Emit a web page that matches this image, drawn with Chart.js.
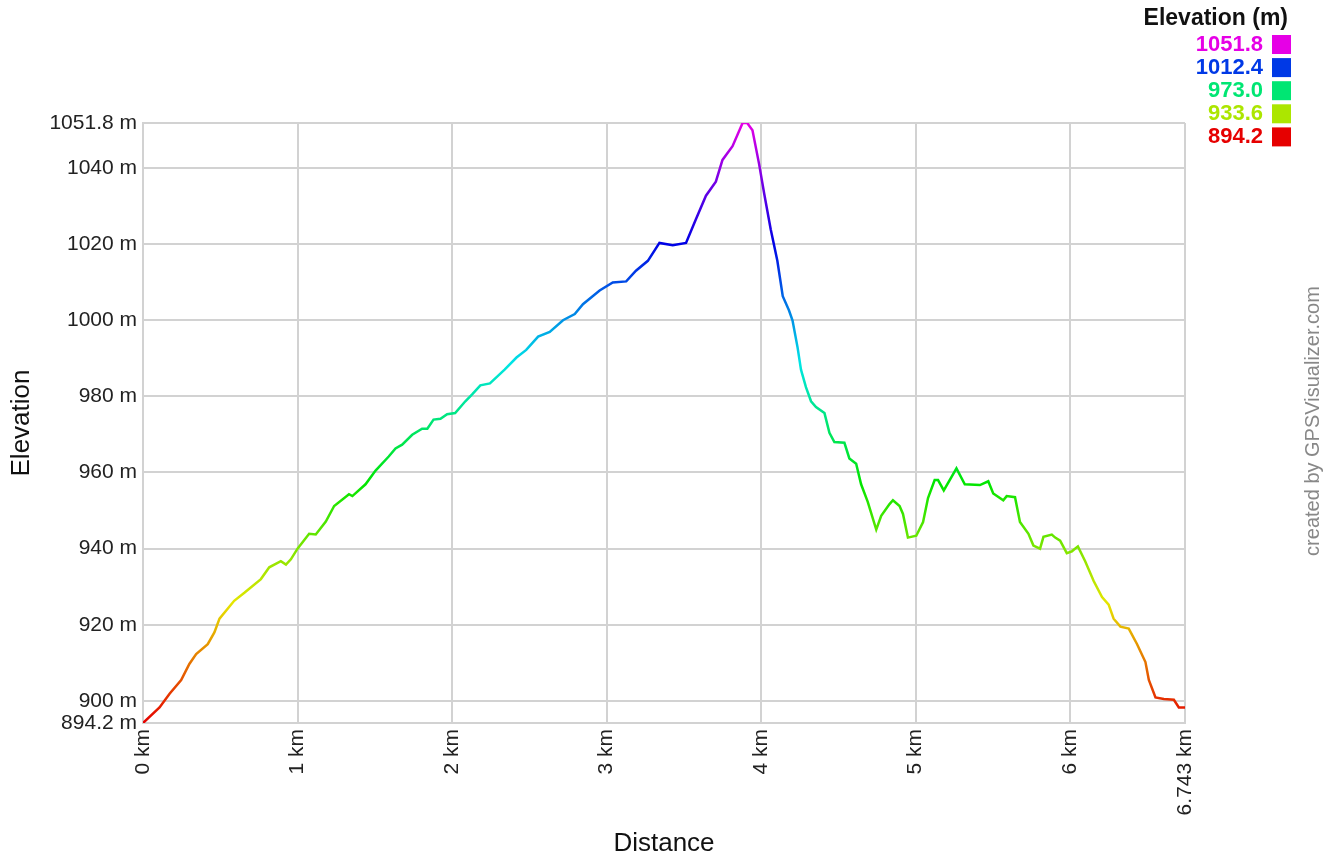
<!DOCTYPE html>
<html>
<head>
<meta charset="utf-8">
<script src="https://cdn.jsdelivr.net/npm/chart.js@4/dist/chart.umd.min.js"></script>
<style>
  html, body { margin: 0; padding: 0; background: #fff; }
  #wrap { width: 1340px; height: 863px; }
</style>
</head>
<body>
<div id="wrap"><canvas id="myChart" width="1340" height="863"></canvas></div>
<script>
// distance along the track (km) and elevation (m)
const distKm = [
  0, 0.107, 0.172, 0.247, 0.30, 0.344, 0.419, 0.462, 0.495, 0.59,
  0.656, 0.763, 0.817, 0.892, 0.925, 0.957, 1.0, 1.075, 1.118, 1.183,
  1.237, 1.333, 1.355, 1.44, 1.505, 1.59, 1.634, 1.677, 1.742, 1.806,
  1.84, 1.88, 1.925, 1.968, 2.02, 2.086, 2.13, 2.183, 2.245, 2.34,
  2.417, 2.48, 2.557, 2.632, 2.718, 2.794, 2.847, 2.955, 3.04, 3.127,
  3.19, 3.267, 3.342, 3.428, 3.514, 3.578, 3.643, 3.707, 3.75, 3.815,
  3.88, 3.91, 3.944, 3.987, 4.02, 4.062, 4.105, 4.14, 4.18, 4.203,
  4.236, 4.258, 4.29, 4.323, 4.355, 4.41, 4.442, 4.474, 4.539, 4.571,
  4.615, 4.647, 4.69, 4.745, 4.777, 4.831, 4.853, 4.896, 4.918, 4.95,
  5.004, 5.048, 5.08, 5.123, 5.145, 5.182, 5.264, 5.318, 5.416, 5.47,
  5.502, 5.567, 5.589, 5.643, 5.675, 5.73, 5.762, 5.805, 5.827, 5.881,
  5.903, 5.935, 5.978, 6.011, 6.05, 6.097, 6.152, 6.206, 6.249, 6.281,
  6.325, 6.379, 6.433, 6.487, 6.509, 6.552, 6.606, 6.671, 6.703, 6.743
];
const elevM = [
  894.2, 898.3, 901.9, 905.5, 909.7, 912.3, 914.9, 918, 921.6, 926.3,
  928.4, 932, 935.1, 936.7, 935.8, 937.2, 940, 943.9, 943.7, 947.1,
  951.2, 954.3, 953.8, 956.9, 960.5, 964.2, 966.3, 967.3, 969.9, 971.5,
  971.5, 973.9, 974.1, 975.3, 975.6, 978.7, 980.5, 982.9, 983.4, 987,
  990.2, 992.2, 995.7, 996.9, 1000, 1001.6, 1004.2, 1007.8, 1009.9, 1010.2,
  1013, 1015.6, 1020.3, 1019.7, 1020.3, 1026.5, 1032.7, 1036.4, 1042.1, 1045.7,
  1051.8, 1051.8, 1049.9, 1041, 1033.2, 1023.9, 1015.6, 1006.3, 1002.6, 1000,
  992.8, 987, 982.4, 978.7, 977.2, 975.6, 970.4, 968, 967.8, 963.7,
  962.3, 956.9, 952.3, 945, 948.6, 951.7, 952.7, 951.2, 949.1, 942.9,
  943.4, 947, 953.3, 958, 958, 955.3, 961.1, 956.9, 956.7, 957.7,
  954.5, 952.7, 953.8, 953.5, 947, 943.9, 940.8, 940, 943.1, 943.7,
  942.9, 942.1, 938.8, 939.3, 940.6, 936.7, 931.5, 927.3, 925.3, 921.6,
  919.5, 919, 914.9, 910.2, 905.5, 900.9, 900.5, 900.3, 898.3, 898.3
];

const xTicks = [0, 1, 2, 3, 4, 5, 6, 6.743];
const yTicks = [894.2, 900, 920, 940, 960, 980, 1000, 1020, 1040, 1051.8];
const legendValues = ["1051.8", "1012.4", "973.0", "933.6", "894.2"];
const elevMin = 894.2;
const elevMax = 1051.8;

// red at the lowest point, magenta at the highest
function colorFor(m) {
  let h = 300 * (m - elevMin) / (elevMax - elevMin);
  return "hsl(" + h + ", 100%, 45%)";
}

const fontName = "'Liberation Sans', Arial, sans-serif";

const extras = {
  id: "extras",
  afterDraw(chart) {
    const c = chart.ctx;
    c.save();
    // legend box, top right
    c.font = "bold 23px " + fontName;
    c.fillStyle = "#111";
    c.textAlign = "right";
    c.textBaseline = "middle";
    c.fillText("Elevation (m)", 1288, 19);
    c.font = "bold 22px " + fontName;
    legendValues.forEach((v, i) => {
      let y = 45 + i * 23.1;
      c.fillStyle = colorFor(parseFloat(v));
      c.fillText(v, 1263, y);
      c.fillRect(1272, y - 10, 19, 19);
    });
    // credit line
    c.translate(1313, 421);
    c.rotate(-Math.PI / 2);
    c.font = "20px " + fontName;
    c.fillStyle = "#888";
    c.textAlign = "center";
    c.fillText("created by GPSVisualizer.com", 0, 0);
    c.restore();
  }
};

const ctx = document.getElementById("myChart");

const myChart = new Chart(ctx, {
  type: "line",
  data: {
    datasets: [
      {
        label: "Elevation",
        data: distKm.map((d, i) => ({ x: d, y: elevM[i] })),
        borderColor: (context) => {
          const area = context.chart.chartArea;
          if (!area) return "red";
          const g = context.chart.ctx.createLinearGradient(0, area.bottom, 0, area.top);
          for (let i = 0; i <= 10; i++) {
            g.addColorStop(i / 10, "hsl(" + (30 * i) + ", 100%, 45%)");
          }
          return g;
        },
        borderWidth: 2.5,
        pointRadius: 0,
        tension: 0,
        fill: false,
      },
    ],
  },
  options: {
    responsive: false,
    animation: false,
    layout: { padding: { top: 123, right: 155, left: 0, bottom: 0 } },
    plugins: {
      legend: { display: false },
      tooltip: { enabled: false },
    },
    scales: {
      x: {
        type: "linear",
        min: 0,
        max: 6.743,
        afterBuildTicks: (scale) => {
          scale.ticks = xTicks.map((v) => ({ value: v }));
        },
        afterFit: (scale) => {
          scale.height = 140;
        },
        ticks: {
          autoSkip: false,
          maxRotation: 90,
          minRotation: 90,
          padding: 6,
          color: "#222",
          font: { family: fontName, size: 21 },
          callback: (v) => v + " km",
        },
        grid: { color: "#d2d2d2", lineWidth: 2, drawTicks: false },
        border: { color: "#d2d2d2", width: 2 },
        title: {
          display: true,
          text: "Distance",
          color: "#111",
          font: { family: fontName, size: 26 },
          padding: { top: 0, bottom: 4 },
        },
      },
      y: {
        min: elevMin,
        max: elevMax,
        afterBuildTicks: (scale) => {
          scale.ticks = yTicks.map((v) => ({ value: v }));
        },
        afterFit: (scale) => {
          scale.width = 143;
        },
        ticks: {
          autoSkip: false,
          padding: 6,
          color: "#222",
          font: { family: fontName, size: 21 },
          callback: (v) => v + " m",
        },
        grid: { color: "#d2d2d2", lineWidth: 2, drawTicks: false },
        border: { color: "#d2d2d2", width: 2 },
        title: {
          display: true,
          text: "Elevation",
          color: "#111",
          font: { family: fontName, size: 26 },
          padding: { top: 6, bottom: 0 },
        },
      },
    },
  },
  plugins: [extras],
});
</script>
</body>
</html>
